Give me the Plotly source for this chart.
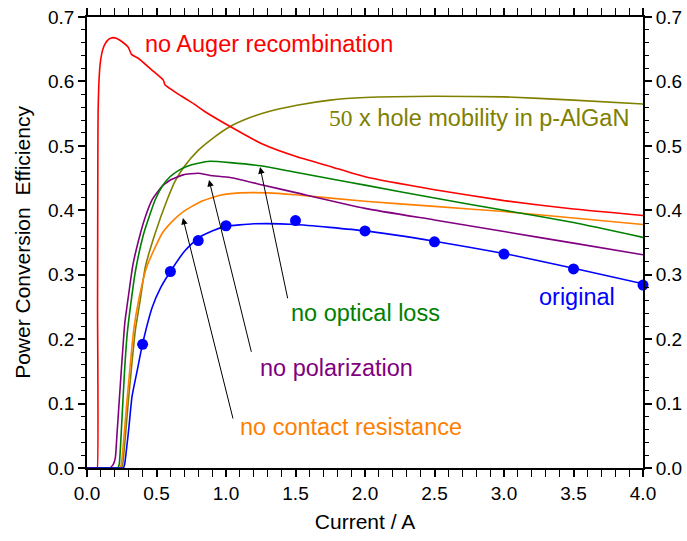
import plotly.graph_objects as go

# ---- data ----
red_x = [0, 0.07, 0.074, 0.076, 0.078, 0.08, 0.085, 0.094, 0.105, 0.117, 0.135, 0.153, 0.17, 0.189, 0.21, 0.25, 0.297, 0.32, 0.369, 0.465, 0.549, 0.561, 0.681, 0.777, 0.85, 1.03, 1.27, 1.51, 1.75, 2.0, 2.5, 3.0, 3.5, 4.0]
red_y = [0, 0, 0, 0.25, 0.48, 0.555, 0.595, 0.626, 0.642, 0.652, 0.66, 0.665, 0.667, 0.668, 0.667, 0.662, 0.653, 0.642, 0.636, 0.618, 0.602, 0.595, 0.577, 0.564, 0.553, 0.530, 0.502, 0.483, 0.468, 0.452, 0.432, 0.415, 0.402, 0.392]

olive_x = [0, 0.24, 0.248, 0.257, 0.30, 0.348, 0.383, 0.42, 0.49, 0.576, 0.633, 0.7, 0.8, 0.9, 1.03, 1.15, 1.27, 1.51, 1.75, 2.0, 2.5, 3.0, 3.5, 4.0]
olive_y = [0, 0, 0, 0.006, 0.11, 0.214, 0.261, 0.3125, 0.364, 0.416, 0.445, 0.468, 0.493, 0.511, 0.530, 0.542, 0.551, 0.563, 0.571, 0.575, 0.577, 0.576, 0.571, 0.565]

green_x = [0, 0.215, 0.222, 0.232, 0.25, 0.27, 0.29, 0.317, 0.348, 0.408, 0.49, 0.54, 0.597, 0.66, 0.717, 0.8, 0.885, 1.03, 1.25, 1.5, 1.75, 2.0, 2.5, 3.0, 3.5, 4.0]
green_y = [0, 0, 0, 0.006, 0.07, 0.15, 0.21, 0.258, 0.305, 0.364, 0.416, 0.437, 0.452, 0.462, 0.468, 0.473, 0.476, 0.474, 0.469, 0.459, 0.449, 0.439, 0.419, 0.40, 0.381, 0.358]

purple_x = [0, 0.155, 0.165, 0.19, 0.204, 0.215, 0.24, 0.272, 0.30, 0.33, 0.384, 0.42, 0.468, 0.52, 0.549, 0.56, 0.6, 0.693, 0.8, 0.885, 1.03, 1.27, 1.51, 2.0, 2.5, 3.0, 3.5, 4.0]
purple_y = [0, 0, 0, 0.006, 0.016, 0.05, 0.13, 0.225, 0.27, 0.315, 0.364, 0.39, 0.416, 0.432, 0.439, 0.441, 0.447, 0.455, 0.4575, 0.454, 0.451, 0.439, 0.427, 0.403, 0.385, 0.367, 0.349, 0.331]

orange_x = [0, 0.23, 0.237, 0.247, 0.29, 0.336, 0.372, 0.43, 0.54, 0.61, 0.693, 0.813, 0.95, 1.1, 1.3, 1.5, 2.0, 2.5, 3.0, 3.5, 4.0]
orange_y = [0, 0, 0, 0.006, 0.11, 0.214, 0.261, 0.3125, 0.364, 0.382, 0.398, 0.413, 0.423, 0.427, 0.427, 0.424, 0.414, 0.406, 0.398, 0.388, 0.378]

blue_x = [0, 0.255, 0.262, 0.271, 0.3, 0.324, 0.36, 0.4, 0.47, 0.53, 0.6, 0.7, 0.8, 0.9, 1.0, 1.2, 1.5, 2.0, 2.5, 3.0, 3.5, 4.0]
blue_y = [0, 0, 0, 0.006, 0.06, 0.111, 0.15, 0.193, 0.25, 0.28, 0.305, 0.336, 0.357, 0.368, 0.375, 0.379, 0.378, 0.368, 0.352, 0.333, 0.31, 0.286]

meas_x = [0.4, 0.6, 0.8, 1.0, 1.5, 2.0, 2.5, 3.0, 3.5, 4.0]
meas_y = [0.192, 0.305, 0.353, 0.376, 0.384, 0.368, 0.351, 0.332, 0.309, 0.284]

FONT = "Liberation Sans, Arial, sans-serif"
RED, OLIVE, GREEN, PURPLE, ORANGE, BLUE = "#FF0000", "#808000", "#008000", "#800080", "#FF8000", "#0000FF"

fig = go.Figure()
for xs, ys, c in [(olive_x, olive_y, OLIVE), (orange_x, orange_y, ORANGE), (purple_x, purple_y, PURPLE),
                  (green_x, green_y, GREEN), (red_x, red_y, RED), (blue_x, blue_y, BLUE)]:
    fig.add_trace(go.Scatter(x=xs, y=ys, mode="lines", line=dict(color=c, width=1.6, shape="spline", smoothing=0.5),
                             showlegend=False, hoverinfo="skip"))
fig.add_trace(go.Scatter(x=meas_x, y=meas_y, mode="markers", marker=dict(color=BLUE, size=11),
                         showlegend=False, cliponaxis=False))
# invisible trace for right axis
fig.add_trace(go.Scatter(x=[0], y=[0], yaxis="y2", mode="markers", marker=dict(opacity=0), showlegend=False, hoverinfo="skip"))

tickfont = dict(family=FONT, size=19, color="black")
common = dict(showgrid=False, zeroline=False, showline=True, linecolor="black", linewidth=1.8,
              ticks="outside", ticklen=7, tickwidth=1.5, tickcolor="black", tickfont=tickfont, automargin=False)

fig.update_layout(
    width=687, height=541,
    margin=dict(l=87, r=44, t=17, b=73),
    plot_bgcolor="white", paper_bgcolor="white",
    xaxis=dict(range=[0, 4], dtick=0.5, tick0=0, tickformat=".1f", mirror="allticks",
               minor=dict(dtick=0.1, ticks="outside", ticklen=4, tickwidth=1.2, tickcolor="black"),
               title=dict(text="Current / A", font=dict(family=FONT, size=21, color="black"), standoff=12),
               **common),
    yaxis=dict(range=[0, 0.7], dtick=0.1, tick0=0, tickformat=".1f", mirror=True,
               minor=dict(dtick=0.02, ticks="outside", ticklen=4, tickwidth=1.2, tickcolor="black"),
               title=dict(text="Power Conversion  Efficiency", font=dict(family=FONT, size=21, color="black"), standoff=12),
               **common),
    yaxis2=dict(range=[0, 0.7], dtick=0.1, tick0=0, tickformat=".1f", overlaying="y", side="right",
                minor=dict(dtick=0.02, ticks="outside", ticklen=4, tickwidth=1.2, tickcolor="black"),
                **common),
)

labels = [
    ("no Auger recombination", 0.40, 0.658, RED),
    ("<span style='font-family:Liberation Serif, Times New Roman, serif'>50</span> x hole mobility in p-AlGaN", 1.727, 0.543, OLIVE),
    ("no optical loss", 1.453, 0.241, GREEN),
    ("original", 3.235, 0.266, BLUE),
    ("no polarization", 1.23, 0.155, PURPLE),
    ("no contact resistance", 1.086, 0.064, ORANGE),
]
for t, x, y, c in labels:
    fig.add_annotation(text=t, x=x, y=y, xref="x", yref="y", xanchor="left", yanchor="middle",
                       showarrow=False, font=dict(family=FONT, size=23.5, color=c))

arrows = [
    (1.446, 0.261, 1.245, 0.467),
    (1.185, 0.178, 0.878, 0.447),
    (1.053, 0.0745, 0.69, 0.388),
]
for x0, y0, x1, y1 in arrows:
    fig.add_annotation(x=x1, y=y1, ax=x0, ay=y0, xref="x", yref="y", axref="x", ayref="y", text="",
                       showarrow=True, arrowhead=2, arrowsize=1.3, arrowwidth=1, arrowcolor="black", standoff=0)

fig.write_html("out.html")
